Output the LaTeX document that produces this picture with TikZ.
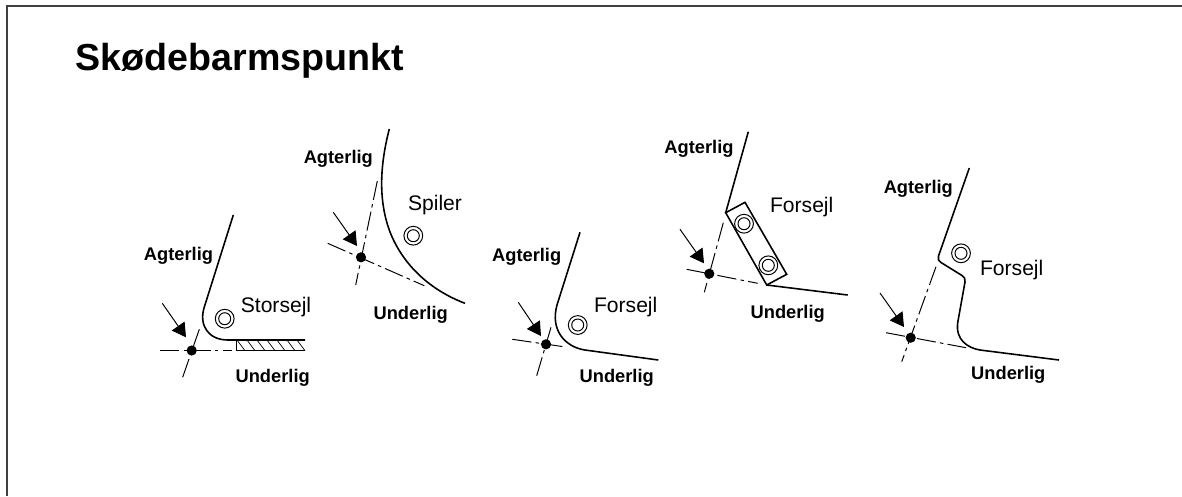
\documentclass[tikz,border=0pt]{standalone}
\usepackage{fontspec}
\setmainfont{Liberation Sans}
\usetikzlibrary{arrows.meta}
\tikzset{
	frameline/.style={line width=0.4pt, black!75},
	lig/.style={line width=0.45pt},
	centerline/.style={line width=0.28pt, dash pattern=on 5.5pt off 1.2pt on 1pt off 1.2pt},
	pointer/.style={line width=0.28pt, -{Triangle[length=3.9pt,width=4.4pt]}},
	ligtext/.style={font=\fontsize{5.2}{6}\selectfont\bfseries, inner sep=0pt, yshift=-0.45pt},
	sejltext/.style={font=\fontsize{6}{7}\selectfont, inner sep=0pt},
	spot/.style={circle, fill=black, minimum size=2.9pt, inner sep=0pt},
}
\def\ring(#1){\draw[line width=0.28pt] (#1) circle (9.4) (#1) circle (6);}
\begin{document}
\begin{tikzpicture}[x=0.01cm, y=-0.01cm]
	\useasboundingbox (0, 0) rectangle (1182, 496);
	%%%%% frame and title
	\draw[frameline] (7, 496) -- (7, 6) -- (1182, 6);
	\node[anchor=base west, inner sep=0pt, font=\fontsize{10.7}{12}\selectfont\bfseries] (title) at (75, 70) {Skødebarmspunkt};

	%%%%% Storsejl
	\draw[lig] (233.3, 215) -- (204, 308) .. controls (199, 325) and (208, 340) .. (228, 340) -- (305, 340);
	\draw[line width=0.3pt] (236.7, 340) -- (236.7, 350.7) -- (305, 350.7);
	\foreach \x in {237, 247, 257, 267, 277, 287, 297} {
		\draw[line width=0.2pt] (\x, 340) -- (\x+8, 350.7);
	}
	\node[spot] (spota) at (191.7, 350.5) {};
	\coordinate (aa) at (160, 350.7);
	\coordinate (ab) at (231.7, 350.7);
	\coordinate (ac) at (199.3, 329.3);
	\coordinate (ad) at (182.3, 378.3);
	\coordinate (ae) at (162.3, 303.3);
	\coordinate (af) at (186, 337.3);
	\draw[centerline] (aa) -- (ab);
	\draw[centerline] (ac) -- (ad);
	\draw[pointer] (ae) -- (af);
	\ring(224.7, 318.7)
	\node[ligtext] (agtera) at (178.5, 254) {Agterlig};
	\node[sejltext] (sejla) at (276, 307.5) {Storsejl};
	\node[ligtext] (undera) at (272.7, 376) {Underlig};

	%%%%% Spiler
	\draw[lig] (389.3, 129) .. controls (380, 165) and (378, 200) .. (390, 232) .. controls (403, 265) and (430, 290) .. (465, 303.3);
	\node[spot] (spotb) at (361, 257.3) {};
	\coordinate (ba) at (377.3, 181);
	\coordinate (bb) at (355.7, 285);
	\coordinate (bc) at (327.7, 243.3);
	\coordinate (bd) at (424.3, 285.7);
	\coordinate (be) at (333.3, 212.3);
	\coordinate (bf) at (357, 246);
	\draw[centerline] (ba) -- (bb);
	\draw[centerline] (bc) -- (bd);
	\draw[pointer] (be) -- (bf);
	\ring(413.3, 235.7)
	\node[ligtext] (agterb) at (338.3, 157.3) {Agterlig};
	\node[sejltext] (sejlb) at (435, 205) {Spiler};
	\node[ligtext] (underb) at (410.7, 313.3) {Underlig};

	%%%%% Forsejl
	\draw[lig] (580, 232.3) -- (557, 305) .. controls (550, 330) and (565, 347) .. (585, 350) -- (658.3, 360);
	\node[spot] (spotc) at (546, 344.3) {};
	\coordinate (ca) at (551, 327.3);
	\coordinate (cb) at (536.7, 375.7);
	\coordinate (cc) at (512.3, 339.3);
	\coordinate (cd) at (563.7, 346.7);
	\coordinate (ce) at (518.3, 302.3);
	\coordinate (cf) at (541, 336);
	\draw[centerline] (ca) -- (cb);
	\draw[centerline] (cc) -- (cd);
	\draw[pointer] (ce) -- (cf);
	\ring(577.7, 325)
	\node[ligtext] (agterc) at (526.7, 255) {Agterlig};
	\node[sejltext] (sejlc) at (625.7, 307.3) {Forsejl};
	\node[ligtext] (underc) at (616.7, 376) {Underlig};

	%%%%% Forsejl with plate
	\draw[lig] (748.3, 131.7) -- (725.7, 212.7);
	\draw[lig] (725.7, 212.7) -- (745, 202.3) -- (786.7, 274.3) -- (766.7, 285) -- cycle;
	\draw[lig] (766.7, 285) -- (847.7, 295);
	\node[spot] (spotd) at (709.3, 273.7) {};
	\coordinate (da) at (723.3, 222.7);
	\coordinate (db) at (704.3, 292.3);
	\coordinate (dc) at (686.7, 269.3);
	\coordinate (dd) at (757.7, 283.3);
	\coordinate (de) at (680, 229.3);
	\coordinate (df) at (704, 263.3);
	\draw[centerline] (da) -- (db);
	\draw[centerline] (dc) -- (dd);
	\draw[pointer] (de) -- (df);
	\ring(744, 223.7)
	\ring(768.3, 265.3)
	\node[ligtext] (agterd) at (699, 147.7) {Agterlig};
	\node[sejltext] (sejld) at (801.7, 206.7) {Forsejl};
	\node[ligtext] (underd) at (787.7, 312.7) {Underlig};

	%%%%% Forsejl with cut-back
	\draw[lig] (969.3, 168) -- (938.5, 256) .. controls (937.5, 259) and (938.5, 261) .. (941, 262.5) -- (962, 275.5) .. controls (964.5, 277) and (965.5, 279) .. (965, 282) -- (957.8, 322) .. controls (955, 340) and (968, 348) .. (980, 350) -- (1059, 360);
	\node[spot] (spote) at (910.7, 337.7) {};
	\coordinate (ea) at (936, 266.7);
	\coordinate (eb) at (901.7, 361.7);
	\coordinate (ec) at (886, 332.7);
	\coordinate (ed) at (966, 347.7);
	\coordinate (ee) at (880, 293);
	\coordinate (ef) at (904, 327);
	\draw[centerline] (ea) -- (eb);
	\draw[centerline] (ec) -- (ed);
	\draw[pointer] (ee) -- (ef);
	\ring(961, 253.3)
	\node[ligtext] (agtere) at (918.3, 187.7) {Agterlig};
	\node[sejltext] (sejle) at (1011.7, 270) {Forsejl};
	\node[ligtext] (undere) at (1008.3, 373.3) {Underlig};
\end{tikzpicture}
\end{document}
